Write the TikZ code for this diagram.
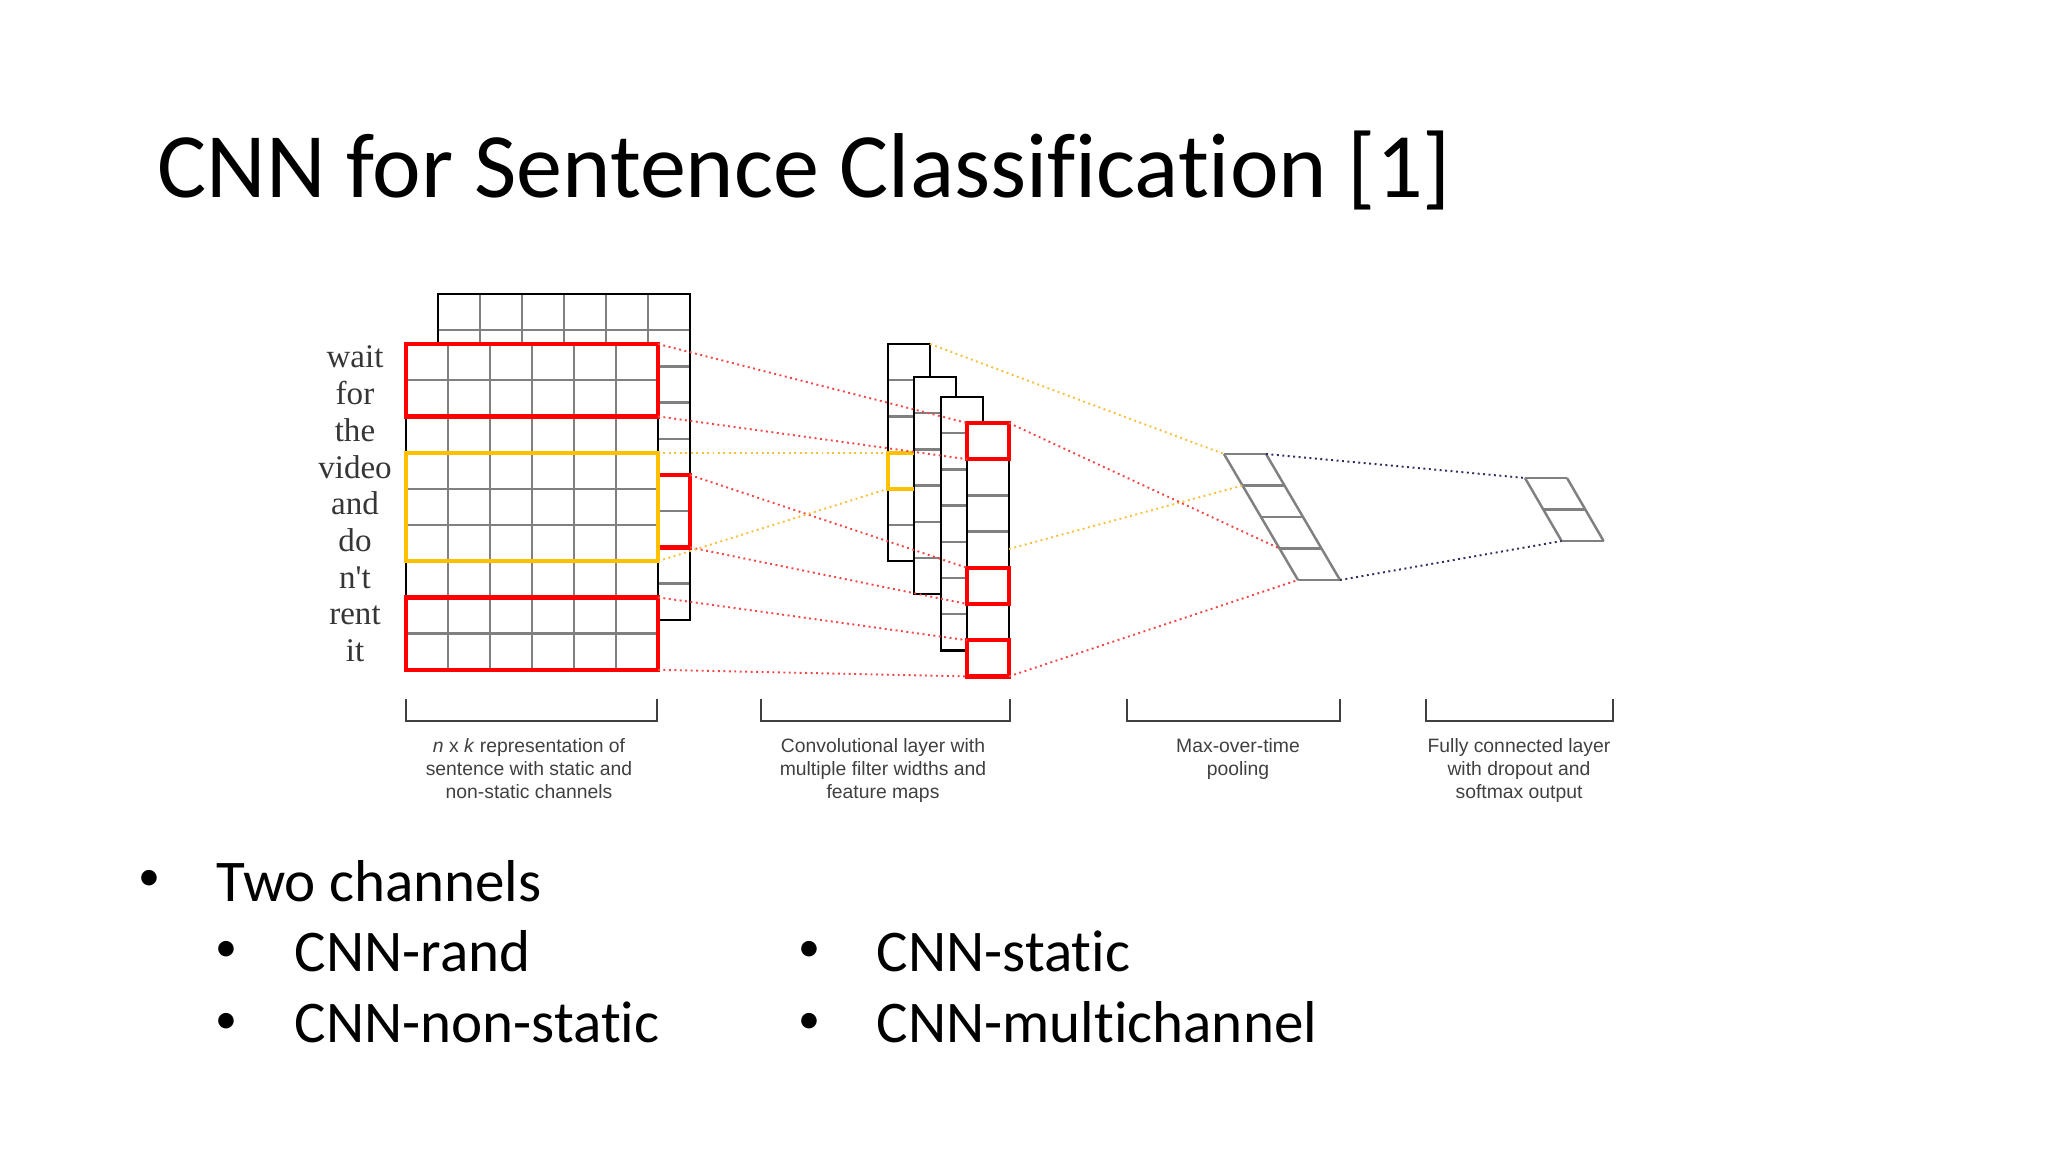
\documentclass[tikz,border=0pt]{standalone}
\usepackage{fontspec}
\setmainfont{Carlito}[Ligatures=CommonOff]
\newfontfamily\wordfont{Liberation Serif}
\newfontfamily\capfont{Liberation Sans}
\definecolor{winred}{HTML}{FF0000}
\definecolor{winyellow}{HTML}{FFC000}
\definecolor{dotred}{HTML}{F04848}
\definecolor{dotyellow}{HTML}{F5C040}
\definecolor{dotblue}{HTML}{2E2E5C}
\definecolor{cellgray}{HTML}{808080}
\definecolor{capgray}{HTML}{404040}
\definecolor{wordgray}{HTML}{363636}

\begin{document}
\begin{tikzpicture}[x=0.01cm, y=-0.01cm,
		cell/.style={draw=cellgray, line width=0.7pt},
		frame/.style={draw=black, line width=0.7pt},
		redwin/.style={draw=winred, line width=1.2pt},
		yellowwin/.style={draw=winyellow, line width=1.1pt},
		reddots/.style={draw=dotred, densely dotted, line width=0.55pt},
		yellowdots/.style={draw=dotyellow, densely dotted, line width=0.55pt},
		bluedots/.style={draw=dotblue, densely dotted, line width=0.55pt},
		bracket/.style={draw=capgray, line width=0.75pt},
		caption/.style={font=\capfont\fontsize{5.5}{6.55}\selectfont, text=capgray, align=center, anchor=north, inner sep=0pt},
		word/.style={font=\wordfont\fontsize{9.4}{10}\selectfont, text=wordgray, anchor=base, inner sep=0pt},
		item/.style={font=\fontsize{16.8}{20}\selectfont, anchor=base west, inner sep=0pt},
		dot/.style={font=\fontsize{12.5}{15}\selectfont, anchor=center, inner sep=0pt}]
	\useasboundingbox (0,0) rectangle (2048,1152);
	\node[anchor=base west, inner sep=0pt, font=\fontsize{26.2}{30}\selectfont] (title) at (157,198) {CNN for Sentence Classification [1]};

	% static channel, behind
	\path[fill=white] (438,294) rectangle ++(252,325.8);
	\foreach \i in {1,...,5} \draw[cell] (438+42*\i,294) -- ++(0,325.8);
	\foreach \j in {1,...,8} \draw[cell] (438,294+36.2*\j) -- ++(252,0);
	\draw[frame] (438,294) rectangle ++(252,325.8);
	\draw[redwin] (438,475) rectangle ++(252,72.4);
	\coordinate (wintopB) at (690,475);
	\coordinate (winbotB) at (690,547.4);

	% non-static channel, front
	\path[fill=white] (406,344) rectangle ++(252,325.8);
	\foreach \i in {1,...,5} \draw[cell] (406+42*\i,344) -- ++(0,325.8);
	\foreach \j in {1,...,8} \draw[cell] (406,344+36.2*\j) -- ++(252,0);
	\draw[frame] (406,344) rectangle ++(252,325.8);
	\draw[redwin] (406,344) rectangle ++(252,72.4) ++(0,-72.4) coordinate(wintopA) ++(0,72.4) coordinate(winbotA);
	\draw[yellowwin] (406,452.6) rectangle ++(252,108.6) ++(0,-108.6) coordinate(ywintop) ++(0,108.6) coordinate(ywinbot);
	\draw[redwin] (406,597.4) rectangle ++(252,72.4) ++(0,-72.4) coordinate(wintopC) ++(0,72.4) coordinate(winbotC);

	\foreach \w [count=\j from 0] in {wait,for,the,video,and,do,n't,rent,it}
		\node[word] (word\j) at (355,368+36.7*\j) {\w};

	% feature maps
	\foreach \x/\y/\n/\m in {888/344/6/5, 914/377/6/5, 941/397/7/6, 967/423/7/6}{
		\path[fill=white] (\x,\y) rectangle ++(42,36.2*\n);
		\foreach \j in {1,...,\m} \draw[cell] (\x,\y+36.2*\j) -- ++(42,0);
		\draw[frame] (\x,\y) rectangle ++(42,36.2*\n);
	}
	\draw[yellowwin] (914,452.6) -| (888,488.8) coordinate(ycellbot) -- (914,488.8);
	\coordinate (ycelltop) at (888,452.6);
	\coordinate (colonetop) at (930,344);
	\coordinate (colfourmid) at (1009,549);
	\coordinate (colfourtop) at (1009,423);
	\coordinate (colfourbot) at (1009,676.4);
	\foreach \r/\s in {0/A,4/B,6/C}{
		\draw[redwin] (967,423+36.2*\r) coordinate(fmaptop\s) rectangle ++(42,36.2);
		\coordinate (fmapbot\s) at (967,459.2+36.2*\r);
	}

	% max pooling
	\foreach \k in {0,...,4} \draw[cell] (1224+18.5*\k,454+31.5*\k) -- ++(42,0);
	\draw[cell] (1224,454) coordinate(pooltl) -- (1298,580) coordinate(poolbl);
	\draw[cell] (1266,454) coordinate(pooltr) -- (1340,580) coordinate(poolbr);
	\coordinate (poolone) at (1242.5,485.5);
	\coordinate (poolthree) at (1279.5,548.5);

	% fully connected
	\foreach \k in {0,1,2} \draw[cell] (1525+18.3*\k,478+31.5*\k) -- ++(42,0);
	\draw[cell] (1525,478) coordinate(fctl) -- (1561.6,541) coordinate(fcbl);
	\draw[cell] (1567,478) -- (1603.6,541);

	\draw[reddots] (wintopA) -- (fmaptopA);
	\draw[reddots] (winbotA) -- (fmapbotA);
	\draw[reddots] (wintopB) -- (fmaptopB);
	\draw[reddots] (winbotB) -- (fmapbotB);
	\draw[reddots] (wintopC) -- (fmaptopC);
	\draw[reddots] (winbotC) -- (fmapbotC);
	\draw[yellowdots] (ywintop) -- (ycelltop);
	\draw[yellowdots] (ywinbot) -- (ycellbot);
	\draw[yellowdots] (colonetop) -- (pooltl);
	\draw[yellowdots] (colfourmid) -- (poolone);
	\draw[reddots] (colfourtop) -- (poolthree);
	\draw[reddots] (colfourbot) -- (poolbl);
	\draw[bluedots] (pooltr) -- (fctl);
	\draw[bluedots] (poolbr) -- (fcbl);

	% brackets and captions
	\draw[bracket] (406,699) |- (657,721) -- (657,699);
	\draw[bracket] (761,699) |- (1010,721) -- (1010,699);
	\draw[bracket] (1127,699) |- (1340,721) -- (1340,699);
	\draw[bracket] (1426,699) |- (1613,721) -- (1613,699);
	\node[caption] (capinput) at (529,738) {\textit{n} x \textit{k} representation of\\sentence with static and\\non-static channels};
	\node[caption] (capconv) at (883,738) {Convolutional layer with\\multiple filter widths and\\feature maps};
	\node[caption] (cappool) at (1238,738) {Max-over-time\\pooling};
	\node[caption] (capfc) at (1519,738) {Fully connected layer\\with dropout and\\softmax output};

	% bullets
	\node[dot] (dotA) at (149,880) {•};
	\node[item] (itemA) at (216,901) {Two channels};
	\node[dot] (dotB) at (226,951) {•};
	\node[item] (itemB) at (294,971) {CNN-rand};
	\node[dot] (dotC) at (226,1023) {•};
	\node[item] (itemC) at (294,1042) {CNN-non-static};
	\node[dot] (dotD) at (809,951) {•};
	\node[item] (itemD) at (876,971) {CNN-static};
	\node[dot] (dotE) at (809,1023) {•};
	\node[item] (itemE) at (876,1042) {CNN-multichannel};
\end{tikzpicture}
\end{document}
